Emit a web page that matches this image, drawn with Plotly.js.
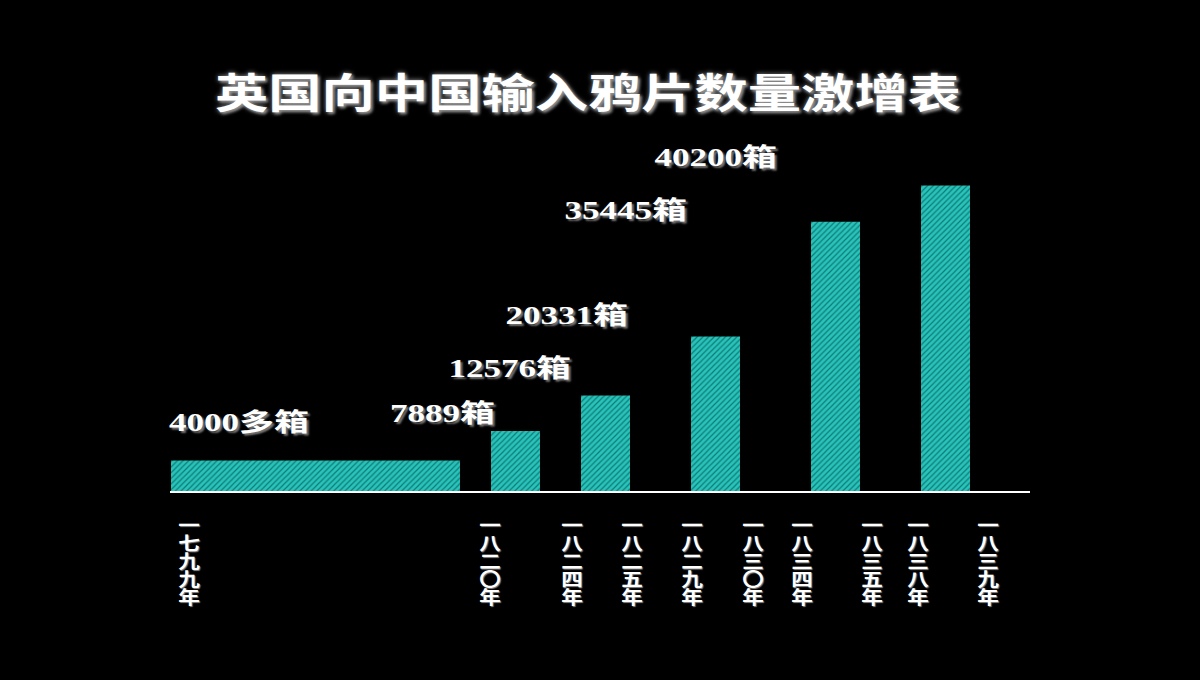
<!DOCTYPE html>
<html>
<head>
<meta charset="utf-8">
<script src="https://cdn.plot.ly/plotly-3.0.1.min.js"></script>
<style>
  html, body { margin: 0; padding: 0; background: #000; }
  #chart { width: 1200px; height: 680px; }
</style>
</head>
<body>
<div id="chart"></div>
<script>
// ---- data ----
const titleText = "英国向中国输入鸦片数量激增表";
// bars: amount of opium chests per period, placed on a slot axis
const barValues = [4000, 7889, 12576, 20331, 35445, 40200];
const barLabels = ["4000多箱", "7889箱", "12576箱", "20331箱", "35445箱", "40200箱"];
const barStart = [0.1, 32.1, 41.1, 52.1, 64.1, 75.1];
const barEnd   = [29.0, 37.0, 46.0, 57.0, 69.0, 80.0];
// value-label anchor positions (slot units, chest units)
const labelX = [6.9, 27.2, 34.0, 39.7, 45.6, 54.6];
const labelY = [9080, 10260, 16180, 23160, 36970, 43950];
// year tick labels
const tickYears = ["一七九九年", "一八二〇年", "一八二四年", "一八二五年", "一八二九年",
                   "一八三〇年", "一八三四年", "一八三五年", "一八三八年", "一八三九年"];
const tickPos = [1.9, 32.0, 40.2, 46.2, 52.2, 58.3, 63.2, 70.2, 74.8, 81.8];

// ---- build ----
const xCenter = barStart.map((s, i) => (s + barEnd[i]) / 2);
const xWidth = barStart.map((s, i) => barEnd[i] - s);

const trace = {
  type: "bar",
  x: xCenter,
  y: barValues,
  width: xWidth,
  marker: {
    color: "#26c2ba",
    line: { width: 0 },
    pattern: { shape: "/", fgcolor: "#107a74", bgcolor: "#28c4bc", size: 4, solidity: 0.3, fillmode: "replace" }
  },
  hoverinfo: "skip"
};

const annotations = barLabels.map((t, i) => ({
  x: labelX[i], y: labelY[i], xref: "x", yref: "y",
  text: t, showarrow: false,
  xanchor: "center", yanchor: "middle",
  font: { family: "Liberation Serif, Noto Sans CJK SC", size: 25, weight: 700, color: "#ffffff",
          shadow: "2px 2px 2px #777" }
}));

const layout = {
  width: 1200, height: 680,
  paper_bgcolor: "#000000", plot_bgcolor: "#000000",
  margin: { l: 170, r: 170, t: 140, b: 189 },
  showlegend: false,
  title: {
    text: titleText,
    x: 0.49, xref: "container", xanchor: "center",
    y: 0.862, yref: "container", yanchor: "middle",
    font: { family: "Noto Sans CJK SC", size: 41, weight: 700, color: "#ffffff",
            shadow: "0 0 5px #999, 2px 2px 3px #888" }
  },
  xaxis: {
    range: [0, 86],
    showgrid: false, zeroline: false,
    showline: true, linecolor: "#ffffff", linewidth: 2,
    tickmode: "array", tickvals: tickPos,
    ticktext: tickYears,
    ticks: "", ticklen: 0,
    tickangle: 0,
    tickfont: { family: "Noto Sans CJK SC", size: 18, weight: 700, color: "#ffffff",
                shadow: "1px 1px 1px #888" }
  },
  yaxis: {
    range: [0, 46200],
    visible: false, showgrid: false, zeroline: false
  },
  annotations: annotations
};

// horizontal stretch of a text element around its own centre (reference glyphs are wide)
function stretch(el, sx) {
  const b = el.getBBox();
  const cx = b.x + b.width / 2, cy = b.y + b.height / 2;
  const t = el.getAttribute("transform") || "";
  el.setAttribute("transform", t + ` translate(${cx} ${cy}) scale(${sx} 1) translate(${-cx} ${-cy})`);
}

const gd = document.getElementById("chart");
Plotly.newPlot(gd, [trace], layout, { displayModeBar: false, staticPlot: true }).then(() => {
  const svgTop = gd.querySelector(".main-svg").getBoundingClientRect().top;
  const topTarget = 516;
  gd.querySelectorAll(".xtick text").forEach(el => {
    const r0 = el.getBoundingClientRect();
    const cx = (r0.left + r0.right) / 2;
    el.style.writingMode = "vertical-rl";
    el.style.textOrientation = "upright";
    el.setAttribute("text-anchor", "start");
    let r = el.getBoundingClientRect();
    const y0 = parseFloat(el.getAttribute("y")) || 0;
    el.setAttribute("y", y0 + (topTarget + svgTop - r.top));
    r = el.getBoundingClientRect();
    const x0 = parseFloat(el.getAttribute("x")) || 0;
    el.setAttribute("x", x0 + (cx - (r.left + r.right) / 2));
    stretch(el, 1.2);
  });
  const title = gd.querySelector(".gtitle");
  if (title) stretch(title, 1.3);
  gd.querySelectorAll(".annotation-text").forEach(el => stretch(el, 1.4));
});
</script>
</body>
</html>
